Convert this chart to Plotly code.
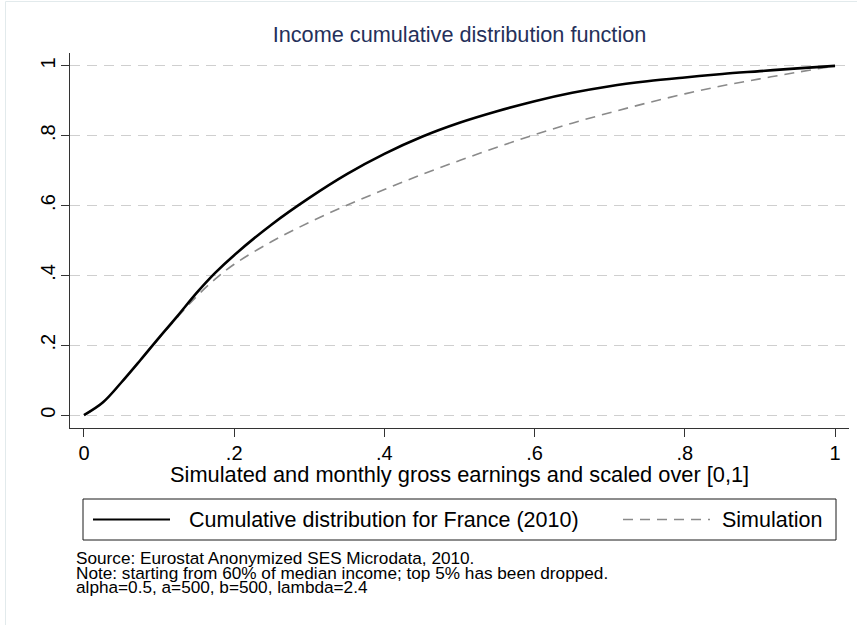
import plotly.graph_objects as go

# ---- data ----
x_vals = [0, 0.025, 0.05, 0.075, 0.1, 0.125, 0.15, 0.175, 0.2, 0.25, 0.3, 0.35,
          0.4, 0.45, 0.5, 0.55, 0.6, 0.65, 0.7, 0.75, 0.8, 0.85, 0.9, 0.95, 1.0]
cdf_france = [0, 0.036, 0.094, 0.157, 0.222, 0.285, 0.350, 0.408, 0.458, 0.546,
              0.622, 0.690, 0.748, 0.797, 0.837, 0.870, 0.899, 0.923, 0.942,
              0.956, 0.967, 0.977, 0.985, 0.993, 1.0]
cdf_sim = [0, 0.036, 0.094, 0.157, 0.220, 0.282, 0.340, 0.390, 0.432, 0.497,
           0.552, 0.601, 0.646, 0.689, 0.729, 0.767, 0.803, 0.836, 0.866,
           0.894, 0.920, 0.943, 0.963, 0.982, 1.0]
tick_vals = [0, 0.2, 0.4, 0.6, 0.8, 1.0]
tick_text = ["0", ".2", ".4", ".6", ".8", "1"]

title_text = "Income cumulative distribution function"
xaxis_title = "Simulated and monthly gross earnings and scaled over [0,1]"
legend_names = ["Cumulative distribution for France (2010)", "Simulation"]
note_lines = [
    "Source: Eurostat Anonymized SES Microdata, 2010.",
    "Note: starting from 60% of median income; top 5% has been dropped.",
    "alpha=0.5, a=500, b=500, lambda=2.4",
]

FONT = "Liberation Sans, Arial, Helvetica, sans-serif"
W, H = 857, 625
ML, MR, MT, MB = 70, 8, 53, 197
PW = W - ML - MR
PH = H - MT - MB


def px(xp):
    return (xp - ML) / PW


def py(yp):
    return (H - MB - yp) / PH


fig = go.Figure()
fig.add_trace(go.Scatter(
    x=x_vals, y=cdf_sim, mode="lines", name=legend_names[1],
    line=dict(color="#8a8a8a", width=1.6, dash="10px,7px", shape="spline", smoothing=1),
    showlegend=False, hoverinfo="skip"))
fig.add_trace(go.Scatter(
    x=x_vals, y=cdf_france, mode="lines", name=legend_names[0],
    line=dict(color="#000000", width=2.6, shape="spline", smoothing=1),
    showlegend=False, hoverinfo="skip"))

shapes = []
# faint outer frame
shapes.append(dict(type="rect", xref="paper", yref="paper",
                   x0=px(5.5), x1=px(870), y0=py(1.5), y1=py(640),
                   line=dict(color="#e2eaec", width=1), fillcolor="rgba(0,0,0,0)", layer="below"))
# legend box
ly = 519.5
shapes.append(dict(type="rect", xref="paper", yref="paper",
                   x0=px(83), x1=px(836), y0=py(499), y1=py(540),
                   line=dict(color="#1a1a1a", width=1), fillcolor="white"))
shapes.append(dict(type="line", xref="paper", yref="paper",
                   x0=px(93), x1=px(170), y0=py(ly), y1=py(ly),
                   line=dict(color="#000000", width=2)))
shapes.append(dict(type="line", xref="paper", yref="paper",
                   x0=px(623), x1=px(710), y0=py(ly), y1=py(ly),
                   line=dict(color="#8a8a8a", width=1.6, dash="10px,7px")))

annotations = []
annotations.append(dict(text=xaxis_title, xref="paper", yref="paper",
                        x=0.5, y=py(474), xanchor="center", yanchor="middle",
                        showarrow=False, font=dict(family=FONT, size=21.8, color="#000000")))
annotations.append(dict(text=legend_names[0], xref="paper", yref="paper",
                        x=px(187), y=py(ly), xanchor="left", yanchor="middle",
                        showarrow=False, font=dict(family=FONT, size=21.5, color="#000000")))
annotations.append(dict(text=legend_names[1], xref="paper", yref="paper",
                        x=px(720), y=py(ly), xanchor="left", yanchor="middle",
                        showarrow=False, font=dict(family=FONT, size=21.5, color="#000000")))
for line_txt, yc in zip(note_lines, [558, 572.5, 587]):
    annotations.append(dict(text=line_txt, xref="paper", yref="paper",
                            x=px(74), y=py(yc), xanchor="left", yanchor="middle",
                            showarrow=False, font=dict(family=FONT, size=17.2, color="#000000")))

fig.update_layout(
    width=W, height=H,
    margin=dict(l=ML, r=MR, t=MT, b=MB, pad=0),
    paper_bgcolor="white", plot_bgcolor="white",
    font=dict(family=FONT, color="#000000"),
    title=dict(text=title_text, x=0.5, xref="paper", xanchor="center",
               y=1 - 34 / H, yref="container", yanchor="middle",
               font=dict(family=FONT, size=21.7, color="#25305a")),
    showlegend=False,
    shapes=shapes,
    annotations=annotations,
    xaxis=dict(range=[-0.0186, 1.0186], tickvals=tick_vals, ticktext=tick_text,
               showgrid=False, zeroline=False, showline=True, linecolor="#333333",
               linewidth=1, ticks="outside", ticklen=8, tickwidth=1, tickcolor="#333333",
               ticklabelstandoff=-1,
               tickfont=dict(family=FONT, size=20, color="#000000"), fixedrange=True),
    yaxis=dict(range=[-0.037, 1.037], tickvals=tick_vals, ticktext=tick_text,
               showgrid=True, gridcolor="#cfcfcf", gridwidth=1, griddash="10px,7px",
               zeroline=False, showline=True, linecolor="#333333", linewidth=1,
               ticks="outside", ticklen=8, tickwidth=1, tickcolor="#333333",
               tickangle=-90, ticklabelstandoff=-2,
               tickfont=dict(family=FONT, size=20, color="#000000"), fixedrange=True),
)

fig.write_html("out.html", config={"displayModeBar": False},
               post_script="document.body.style.margin='0';document.body.style.padding='0';")
